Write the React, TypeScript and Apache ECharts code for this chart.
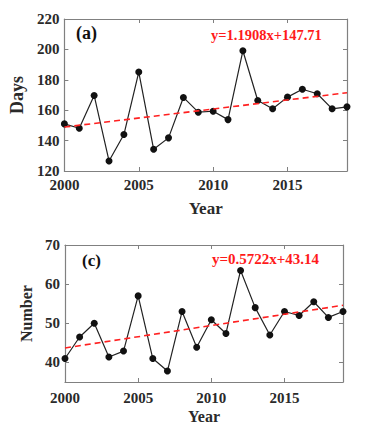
import React, { useEffect, useRef } from "react";
import * as echarts from "echarts";

const years = [2000, 2001, 2002, 2003, 2004, 2005, 2006, 2007, 2008, 2009, 2010, 2011, 2012, 2013, 2014, 2015, 2016, 2017, 2018, 2019];
const daysValues = [151, 148.1, 169.7, 126.6, 144, 185.1, 134.3, 141.8, 168.4, 158.7, 159.3, 153.8, 199.1, 166.4, 160.9, 168.6, 173.8, 170.8, 160.9, 162.2];
const numberValues = [41, 46.5, 50, 41.4, 42.9, 57, 41, 37.8, 53, 43.9, 50.9, 47.4, 63.5, 54, 47, 53, 52, 55.5, 51.5, 53];
const trendDaysEnds = [148.9, 171.5];
const trendNumberEnds = [43.7, 54.6];
const daysTicks = [120, 140, 160, 180, 200, 220];
const numberTicks = [40, 50, 60, 70];
const yearTicks = [2000, 2005, 2010, 2015];
const eqA = "y=1.1908x+147.71";
const eqC = "y=0.5722x+43.14";

const FONT = "Liberation Serif";
const AX = "#808080";
const TXT = "#2a2a2a";

export default function App() {
  const ref = useRef<HTMLDivElement>(null);
  useEffect(() => {
    if (!ref.current) return;
    const chart = echarts.init(ref.current, null, { renderer: "svg" });
    const labelStyle = (size: number) => ({ fontFamily: FONT, fontWeight: "bold" as const, fontSize: size, color: TXT });
    const fmt = (v: number) => String(v);
    const xMain = (gridIndex: number, gap: number, nameGap: number, nameSize: number) => ({
      type: "value", gridIndex, min: 2000, max: 2019, interval: 5,
      name: "Year", nameLocation: "middle", nameGap, nameTextStyle: labelStyle(nameSize),
      axisLine: { show: true, onZero: false, lineStyle: { color: AX, width: 1.2 } },
      axisTick: { show: true, inside: true, length: 4, lineStyle: { color: AX }, customValues: yearTicks },
      axisLabel: { ...labelStyle(15), margin: gap, customValues: yearTicks, formatter: fmt },
      splitLine: { show: false },
    });
    const xTop = (gridIndex: number) => ({
      type: "value", gridIndex, min: 2000, max: 2019, interval: 5, position: "top",
      axisLine: { show: true, onZero: false, lineStyle: { color: AX, width: 1.2 } },
      axisTick: { show: true, inside: true, length: 4, lineStyle: { color: AX }, customValues: yearTicks },
      axisLabel: { show: false }, splitLine: { show: false },
    });
    const yMain = (gridIndex: number, min: number, max: number, ticks: number[], name: string, nameGap: number, nameSize: number) => ({
      type: "value", gridIndex, min, max,
      name, nameLocation: "middle", nameGap, nameTextStyle: labelStyle(nameSize),
      axisLine: { show: true, onZero: false, lineStyle: { color: AX, width: 1.2 } },
      axisTick: { show: true, inside: true, length: 4, lineStyle: { color: AX }, customValues: ticks },
      axisLabel: { ...labelStyle(15), margin: 5, customValues: ticks, formatter: fmt },
      splitLine: { show: false },
    });
    const yRight = (gridIndex: number, min: number, max: number, ticks: number[]) => ({
      type: "value", gridIndex, min, max, position: "right",
      axisLine: { show: true, onZero: false, lineStyle: { color: AX, width: 1.2 } },
      axisTick: { show: true, inside: true, length: 4, lineStyle: { color: AX }, customValues: ticks },
      axisLabel: { show: false }, splitLine: { show: false },
    });
    const dataSeries = (idx: number, vals: number[]) => ({
      type: "line", xAxisIndex: idx * 2, yAxisIndex: idx * 2,
      data: years.map((y, i) => [y, vals[i]]),
      symbol: "circle", symbolSize: 7,
      itemStyle: { color: "#111" },
      lineStyle: { color: "#222", width: 1.2 },
      z: 3,
    });
    const trendSeries = (idx: number, ends: number[]) => ({
      type: "line", xAxisIndex: idx * 2, yAxisIndex: idx * 2,
      data: [[years[0], ends[0]], [years[years.length - 1], ends[1]]],
      symbol: "none",
      lineStyle: { color: "#ff2020", width: 1.6, type: [6, 4] },
      z: 4,
    });
    chart.setOption({
      animation: false,
      grid: [
        { left: 60, right: 24, top: 19, bottom: 264 },
        { left: 65, right: 28, top: 245, bottom: 53 },
      ],
      xAxis: [xMain(0, 6, 29, 17), xTop(0), xMain(1, 8, 26, 16), xTop(1)],
      yAxis: [
        yMain(0, 120, 220, daysTicks, "Days", 33, 18), yRight(0, 120, 220, daysTicks),
        yMain(1, 35, 70, numberTicks, "Number", 23, 16), yRight(1, 35, 70, numberTicks),
      ],
      series: [dataSeries(0, daysValues), trendSeries(0, trendDaysEnds), dataSeries(1, numberValues), trendSeries(1, trendNumberEnds)],
      graphic: [
        { type: "text", left: 76, top: 24, style: { text: "(a)", fontFamily: FONT, fontWeight: "bold", fontSize: 18, fill: "#111" } },
        { type: "text", left: 211, top: 27, style: { text: eqA, fontFamily: FONT, fontWeight: "bold", fontSize: 14.5, fill: "#ff1a1a" } },
        { type: "text", left: 82, top: 252, style: { text: "(c)", fontFamily: FONT, fontWeight: "bold", fontSize: 17, fill: "#111" } },
        { type: "text", left: 212, top: 251, style: { text: eqC, fontFamily: FONT, fontWeight: "bold", fontSize: 15, fill: "#ff1a1a" } },
      ],
    });
    return () => chart.dispose();
  }, []);
  return <div ref={ref} style={{ position: "absolute", left: 0, top: 0, width: 371, height: 435, background: "#fff" }} />;
}
